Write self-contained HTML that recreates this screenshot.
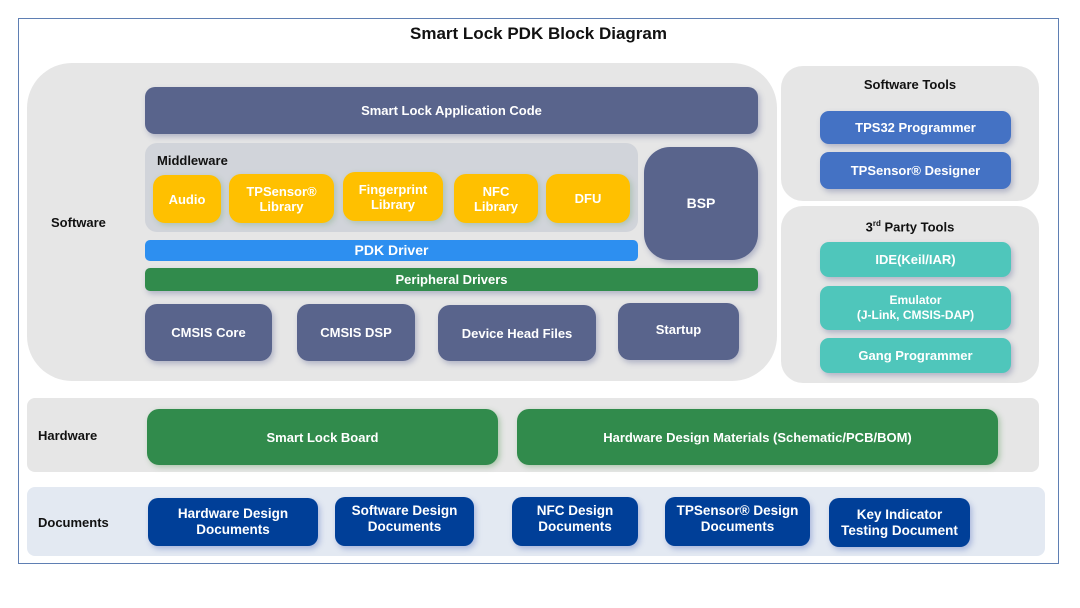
<!DOCTYPE html>
<html><head><meta charset="utf-8"><style>
*{margin:0;padding:0;box-sizing:border-box}
body{width:1080px;height:608px;background:#fff;position:relative;font-family:"Liberation Sans",Arial,sans-serif;overflow:hidden}
.a{position:absolute}
.b{position:absolute;display:flex;align-items:center;justify-content:center;text-align:center;color:#fff;font-weight:bold;font-size:13px;line-height:15px}
.lbl{position:absolute;font-weight:bold;font-size:13px;color:#111}
.sh{box-shadow:2px 3px 6px rgba(80,90,140,.35)}
.y{background:#ffc000;border-radius:12px;box-shadow:2px 2px 6px rgba(120,170,120,.4)}
.n{background:#59648c;border-radius:12px}
.d{background:#003f98;border-radius:10px;font-size:13.5px;line-height:16px;box-shadow:2px 3px 6px rgba(60,90,180,.35)}
.t{background:#4fc6bb;border-radius:9px}
.bl{background:#4472c4;border-radius:9px}
</style></head><body>
<div class="a" style="left:18px;top:18px;width:1041px;height:546px;border:1px solid #5f7fb3"></div>
<div class="a" style="left:18px;top:24px;width:1041px;text-align:center;font-weight:bold;font-size:17px;color:#111">Smart Lock PDK Block Diagram</div>

<div class="a" style="left:27px;top:63px;width:750px;height:318px;background:#e6e6e6;border-radius:45px"></div>
<div class="lbl" style="left:51px;top:215px">Software</div>
<div class="b n sh" style="left:145px;top:87px;width:613px;height:47px;border-radius:10px">Smart Lock Application Code</div>
<div class="a" style="left:145px;top:143px;width:493px;height:89px;background:#d1d4da;border-radius:12px"></div>
<div class="lbl" style="left:157px;top:153px">Middleware</div>
<div class="b y" style="left:153px;top:175px;width:68px;height:48px">Audio</div>
<div class="b y" style="left:229px;top:174px;width:105px;height:49px">TPSensor®<br>Library</div>
<div class="b y" style="left:343px;top:172px;width:100px;height:49px">Fingerprint<br>Library</div>
<div class="b y" style="left:454px;top:174px;width:84px;height:49px">NFC<br>Library</div>
<div class="b y" style="left:546px;top:174px;width:84px;height:49px">DFU</div>
<div class="b n sh" style="left:644px;top:147px;width:114px;height:113px;border-radius:26px;font-size:14px">BSP</div>
<div class="b" style="left:145px;top:240px;width:493px;height:21px;background:#2d8ff0;border-radius:5px;font-size:14px">PDK Driver</div>
<div class="b sh" style="left:145px;top:268px;width:613px;height:23px;background:#318b4c;border-radius:5px">Peripheral Drivers</div>
<div class="b n sh" style="left:145px;top:304px;width:127px;height:57px">CMSIS Core</div>
<div class="b n sh" style="left:297px;top:304px;width:118px;height:57px">CMSIS DSP</div>
<div class="b n sh" style="left:438px;top:305px;width:158px;height:56px">Device Head Files</div>
<div class="b n sh" style="left:618px;top:303px;width:121px;height:57px;padding-bottom:4px">Startup</div>

<div class="a" style="left:781px;top:66px;width:258px;height:135px;background:#e6e6e6;border-radius:22px"></div>
<div class="lbl" style="left:781px;top:77px;width:258px;text-align:center">Software Tools</div>
<div class="b bl sh" style="left:820px;top:111px;width:191px;height:33px">TPS32 Programmer</div>
<div class="b bl sh" style="left:820px;top:152px;width:191px;height:37px">TPSensor® Designer</div>
<div class="a" style="left:781px;top:206px;width:258px;height:177px;background:#e6e6e6;border-radius:22px"></div>
<div class="lbl" style="left:781px;top:219px;width:258px;text-align:center">3<sup style="font-size:8px">rd</sup> Party Tools</div>
<div class="b t sh" style="left:820px;top:242px;width:191px;height:35px">IDE(Keil/IAR)</div>
<div class="b t sh" style="left:820px;top:286px;width:191px;height:44px;font-size:12px">Emulator<br>(J-Link, CMSIS-DAP)</div>
<div class="b t sh" style="left:820px;top:338px;width:191px;height:35px">Gang Programmer</div>

<div class="a" style="left:27px;top:398px;width:1012px;height:74px;background:#e6e6e6;border-radius:8px"></div>
<div class="lbl" style="left:38px;top:428px">Hardware</div>
<div class="b" style="left:147px;top:409px;width:351px;height:56px;background:#318b4c;border-radius:12px;box-shadow:2px 2px 6px rgba(80,150,80,.4)">Smart Lock Board</div>
<div class="b" style="left:517px;top:409px;width:481px;height:56px;background:#318b4c;border-radius:12px;box-shadow:2px 2px 6px rgba(80,150,80,.4)">Hardware Design Materials (Schematic/PCB/BOM)</div>

<div class="a" style="left:27px;top:487px;width:1018px;height:69px;background:#e3e9f2;border-radius:8px"></div>
<div class="lbl" style="left:38px;top:515px">Documents</div>
<div class="b d" style="left:148px;top:498px;width:170px;height:48px">Hardware Design<br>Documents</div>
<div class="b d" style="left:335px;top:497px;width:139px;height:49px;padding-bottom:6px">Software Design<br>Documents</div>
<div class="b d" style="left:512px;top:497px;width:126px;height:49px;padding-bottom:6px">NFC Design<br>Documents</div>
<div class="b d" style="left:665px;top:497px;width:145px;height:49px;padding-bottom:6px">TPSensor® Design<br>Documents</div>
<div class="b d" style="left:829px;top:498px;width:141px;height:49px">Key Indicator<br>Testing Document</div>
</body></html>
